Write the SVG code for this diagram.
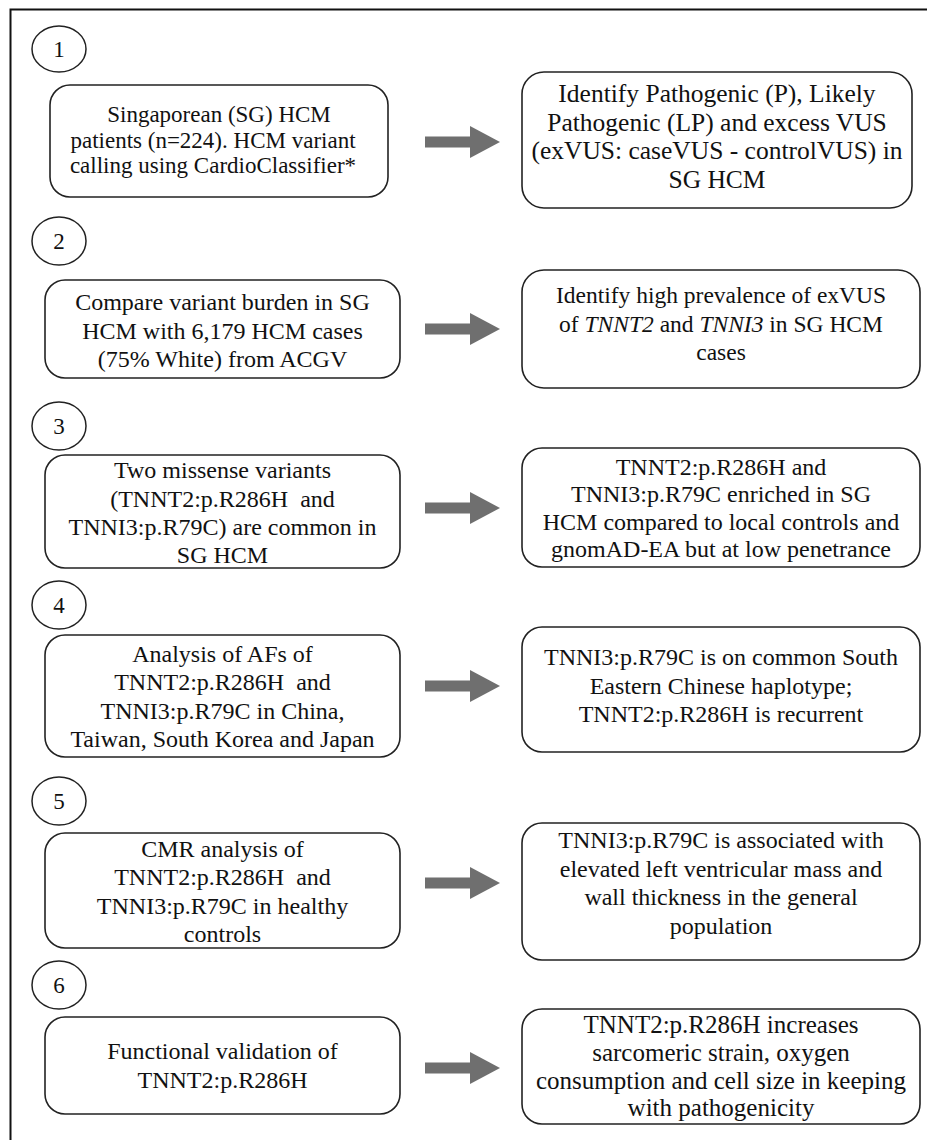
<svg xmlns="http://www.w3.org/2000/svg" xmlns:xlink="http://www.w3.org/1999/xlink" width="927" height="1140" viewBox="0 0 927 1140">
<style>
.box{fill:#fff;stroke:#222;stroke-width:1.6}
.num{fill:#fff;stroke:#222;stroke-width:1.5}
.t{font-family:"Liberation Serif","Times New Roman",serif;fill:#111;text-anchor:middle}
.n{font-family:"Liberation Serif","Times New Roman",serif;fill:#111;text-anchor:middle;font-size:23px}
.arr{fill:#6f6f6f}
</style>
<defs>
<polygon id="arrow" points="425,-5.5 470,-5.5 470,-16 500,0 470,16 470,5.5 425,5.5"/>
</defs>
<rect width="927" height="1140" fill="#fff"/>
<path d="M10.5,1140 V9.5 H927" fill="none" stroke="#111" stroke-width="2"/>

<g id="connectors" class="arr">
<use xlink:href="#arrow" href="#arrow" transform="translate(0,142)"/>
<use xlink:href="#arrow" href="#arrow" transform="translate(0,329)"/>
<use xlink:href="#arrow" href="#arrow" transform="translate(0,508)"/>
<use xlink:href="#arrow" href="#arrow" transform="translate(0,686)"/>
<use xlink:href="#arrow" href="#arrow" transform="translate(0,883)"/>
<use xlink:href="#arrow" href="#arrow" transform="translate(0,1068)"/>
</g>

<g id="step1">
<ellipse class="num" cx="59" cy="49" rx="27" ry="23"/>
<text class="n" x="59" y="57">1</text>
</g>
<g id="step2">
<ellipse class="num" cx="59" cy="241" rx="27" ry="24"/>
<text class="n" x="59" y="249">2</text>
</g>
<g id="step3">
<ellipse class="num" cx="59" cy="426" rx="27" ry="24"/>
<text class="n" x="59" y="434">3</text>
</g>
<g id="step4">
<ellipse class="num" cx="59" cy="605" rx="27" ry="24"/>
<text class="n" x="59" y="613">4</text>
</g>
<g id="step5">
<ellipse class="num" cx="59" cy="801" rx="27" ry="24"/>
<text class="n" x="59" y="809">5</text>
</g>
<g id="step6">
<ellipse class="num" cx="59" cy="985" rx="27" ry="24"/>
<text class="n" x="59" y="993">6</text>
</g>

<g id="box1L">
<rect class="box" x="50" y="85" width="338" height="112" rx="20"/>
<text class="t" font-size="23" x="219"><tspan x="219" y="122">Singaporean (SG) HCM</tspan><tspan x="213" y="147.5">patients (n=224). HCM variant</tspan><tspan x="213" y="173">calling using CardioClassifier*</tspan></text>
</g>
<g id="box1R">
<rect class="box" x="522" y="72" width="390" height="136" rx="22"/>
<text class="t" font-size="25.5" x="717"><tspan x="717" y="102">Identify Pathogenic (P), Likely</tspan><tspan x="717" y="130.5">Pathogenic (LP) and excess VUS</tspan><tspan x="717" y="159">(exVUS: caseVUS - controlVUS) in</tspan><tspan x="717" y="187.5">SG HCM</tspan></text>
</g>

<g id="box2L">
<rect class="box" x="45" y="280" width="355" height="98" rx="20"/>
<text class="t" font-size="24" x="222.5"><tspan x="222.5" y="310">Compare variant burden in SG</tspan><tspan x="222.5" y="338.5">HCM with 6,179 HCM cases</tspan><tspan x="222.5" y="367">(75% White) from ACGV</tspan></text>
</g>
<g id="box2R">
<rect class="box" x="522" y="270" width="398" height="118" rx="22"/>
<text class="t" font-size="23.5" x="721"><tspan x="721" y="303">Identify high prevalence of exVUS</tspan><tspan x="721" y="331.5">of <tspan font-style="italic">TNNT2</tspan> and <tspan font-style="italic">TNNI3</tspan> in SG HCM</tspan><tspan x="721" y="360">cases</tspan></text>
</g>

<g id="box3L">
<rect class="box" x="45" y="455" width="355" height="113" rx="20"/>
<text class="t" font-size="24" x="222.5" xml:space="preserve"><tspan x="222.5" y="478">Two missense variants</tspan><tspan x="222.5" y="506.5">(TNNT2:p.R286H  and</tspan><tspan x="222.5" y="535">TNNI3:p.R79C) are common in</tspan><tspan x="222.5" y="563">SG HCM</tspan></text>
</g>
<g id="box3R">
<rect class="box" x="522" y="448" width="398" height="119" rx="20"/>
<text class="t" font-size="24" x="721"><tspan x="721" y="475">TNNT2:p.R286H and</tspan><tspan x="721" y="502">TNNI3:p.R79C enriched in SG</tspan><tspan x="721" y="530">HCM compared to local controls and</tspan><tspan x="721" y="557">gnomAD-EA but at low penetrance</tspan></text>
</g>

<g id="box4L">
<rect class="box" x="45" y="635" width="355" height="122" rx="20"/>
<text class="t" font-size="24" x="222.5" xml:space="preserve"><tspan x="222.5" y="662">Analysis of AFs of</tspan><tspan x="222.5" y="690">TNNT2:p.R286H  and</tspan><tspan x="222.5" y="718.5">TNNI3:p.R79C in China,</tspan><tspan x="222.5" y="747">Taiwan, South Korea and Japan</tspan></text>
</g>
<g id="box4R">
<rect class="box" x="522" y="627" width="398" height="125" rx="20"/>
<text class="t" font-size="24" x="721"><tspan x="721" y="665">TNNI3:p.R79C is on common South</tspan><tspan x="721" y="693.5">Eastern Chinese haplotype;</tspan><tspan x="721" y="722">TNNT2:p.R286H is recurrent</tspan></text>
</g>

<g id="box5L">
<rect class="box" x="45" y="833" width="355" height="115" rx="20"/>
<text class="t" font-size="24" x="222.5" xml:space="preserve"><tspan x="222.5" y="857">CMR analysis of</tspan><tspan x="222.5" y="885">TNNT2:p.R286H  and</tspan><tspan x="222.5" y="913.5">TNNI3:p.R79C in healthy</tspan><tspan x="222.5" y="942">controls</tspan></text>
</g>
<g id="box5R">
<rect class="box" x="522" y="823" width="398" height="137" rx="20"/>
<text class="t" font-size="24" x="721"><tspan x="721" y="848">TNNI3:p.R79C is associated with</tspan><tspan x="721" y="876.5">elevated left ventricular mass and</tspan><tspan x="721" y="905">wall thickness in the general</tspan><tspan x="721" y="933.5">population</tspan></text>
</g>

<g id="box6L">
<rect class="box" x="45" y="1017" width="355" height="97" rx="20"/>
<text class="t" font-size="24" x="222.5"><tspan x="222.5" y="1059">Functional validation of</tspan><tspan x="222.5" y="1088">TNNT2:p.R286H</tspan></text>
</g>
<g id="box6R">
<rect class="box" x="522" y="1009" width="398" height="115" rx="20"/>
<text class="t" font-size="25" x="721"><tspan x="721" y="1033">TNNT2:p.R286H increases</tspan><tspan x="721" y="1061">sarcomeric strain, oxygen</tspan><tspan x="721" y="1089">consumption and cell size in keeping</tspan><tspan x="721" y="1116">with pathogenicity</tspan></text>
</g>
</svg>
